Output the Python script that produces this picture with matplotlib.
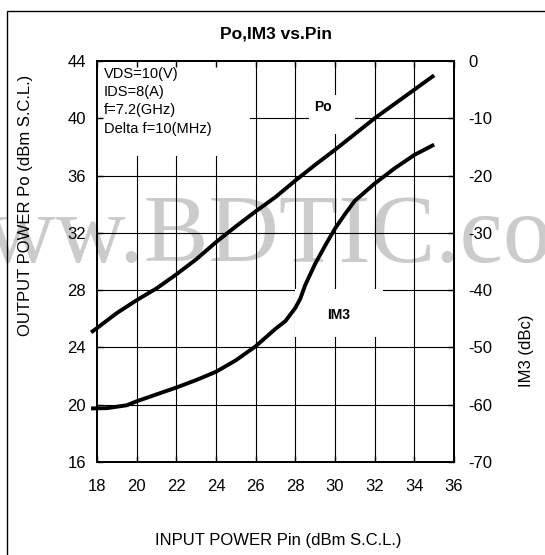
import matplotlib
matplotlib.use("Agg")
import matplotlib.pyplot as plt
from matplotlib.patches import Rectangle

plt.rcParams['font.family'] = ['Liberation Sans', 'DejaVu Sans']
plt.rcParams['axes.unicode_minus'] = False

# ---------------- data ----------------
pin_po = [17.7, 18, 19, 20, 21, 22, 23, 24, 25, 26, 27, 28, 29, 30, 31, 32, 33, 34, 35]
po = [25.05, 25.35, 26.4, 27.3, 28.12, 29.1, 30.15, 31.35, 32.45, 33.5, 34.5,
      35.65, 36.75, 37.8, 38.9, 40.0, 41.0, 42.0, 43.0]

pin_im3 = [17.7, 18.5, 19.5, 20, 21, 22, 23, 24, 25, 26, 27, 27.5, 28, 28.25,
           28.5, 29, 29.5, 30, 30.5, 31, 32, 33, 34, 35]
im3 = [-60.65, -60.6, -60.1, -59.4, -58.2, -57.0, -55.7, -54.25, -52.25, -49.8,
       -46.75, -45.4, -43.1, -41.5, -39.1, -35.4, -32.25, -29.25, -26.75, -24.4,
       -21.4, -18.75, -16.4, -14.6]

x_ticks = [18, 20, 22, 24, 26, 28, 30, 32, 34, 36]
po_ticks = [16, 20, 24, 28, 32, 36, 40, 44]
im3_ticks = [-70, -60, -50, -40, -30, -20, -10, 0]

title = "Po,IM3 vs.Pin"
xlabel = "INPUT POWER Pin (dBm S.C.L.)"
ylabel_left = "OUTPUT POWER Po (dBm S.C.L.)"
ylabel_right = "IM3 (dBc)"
conditions = "VDS=10(V)\nIDS=8(A)\nf=7.2(GHz)\nDelta f=10(MHz)"

W, H = 545, 555
fig = plt.figure(figsize=(W / 100, H / 100), dpi=100, facecolor='white')

# watermark (behind the axes)
fig.text(0.5, 1 - 262 / H, "www.BDTIC.com", ha='center', va='baseline',
         fontsize=70, family='Liberation Serif', color='#cbcbcb', zorder=-1)

# outer frame (only left and top visible)
fig.add_artist(Rectangle((7 / W, -0.5), 2, 0.5 + 1 - 10.5 / H, transform=fig.transFigure,
                         fill=False, lw=1.0, ec='black'))

ax = fig.add_axes([97 / W, 1 - 462 / H, (454 - 97) / W, (462 - 61) / H])
ax.set_facecolor('none')
ax.set_xlim(18, 36)
ax.set_ylim(16, 44)
ax.set_xticks(x_ticks)
ax.set_yticks(po_ticks)
ax.set_axisbelow(False)

# grid lines
ax.vlines(x_ticks[1:-1], 16, 44, colors='black', lw=0.8, zorder=1)
ax.hlines(po_ticks[1:-1], 18, 36, colors='black', lw=0.8, zorder=1)

# white label boxes covering the grid
ax.add_patch(Rectangle((18, 37.4), 7.7, 6.6, fc='white', ec='none', zorder=2))
ax.add_patch(Rectangle((28.7, 38.9), 2.3, 2.75, fc='white', ec='none', zorder=2))
ax.add_patch(Rectangle((28.0, 24.75), 4.4, 3.35, fc='white', ec='none', zorder=2))

ax.plot(pin_po, po, color='black', lw=2.8, solid_capstyle='butt', zorder=3, clip_on=False)

for s in ax.spines.values():
    s.set_linewidth(1.3)
ax.tick_params(direction='in', length=4, width=1, top=True, bottom=True,
               left=True, right=False, labelsize=12)
ax.tick_params(axis='x', pad=12)
ax.tick_params(axis='y', pad=8)

ax2 = ax.twinx()
ax2.set_facecolor('none')
ax2.set_ylim(-70, 0)
ax2.set_yticks(im3_ticks)
ax2.plot(pin_im3, im3, color='black', lw=2.8, solid_capstyle='butt', zorder=3, clip_on=False)
ax2.tick_params(direction='in', length=4, width=1, labelsize=12, pad=10)
for s in ax2.spines.values():
    s.set_linewidth(1.3)

# texts
fig.text(276 / W, 1 - 33.6 / H, title, ha='center', va='center', fontsize=12.5, fontweight='bold')
fig.text(278 / W, 1 - 540 / H, xlabel, ha='center', va='center', fontsize=12)
fig.text(26 / W, 1 - 205 / H, ylabel_left, ha='center', va='center', fontsize=12, rotation=90)
fig.text(527 / W, 1 - 351 / H, ylabel_right, ha='center', va='center', fontsize=12, rotation=90)
fig.text(104 / W, 1 - 67 / H, conditions, ha='left', va='top', fontsize=10.5, linespacing=1.38)
fig.text(323 / W, 1 - 106.7 / H, "Po", ha='center', va='center', fontsize=10, fontweight='bold')
fig.text(339 / W, 1 - 315 / H, "IM3", ha='center', va='center', fontsize=10, fontweight='bold')

fig.savefig("out.png", dpi=100, facecolor='white')
